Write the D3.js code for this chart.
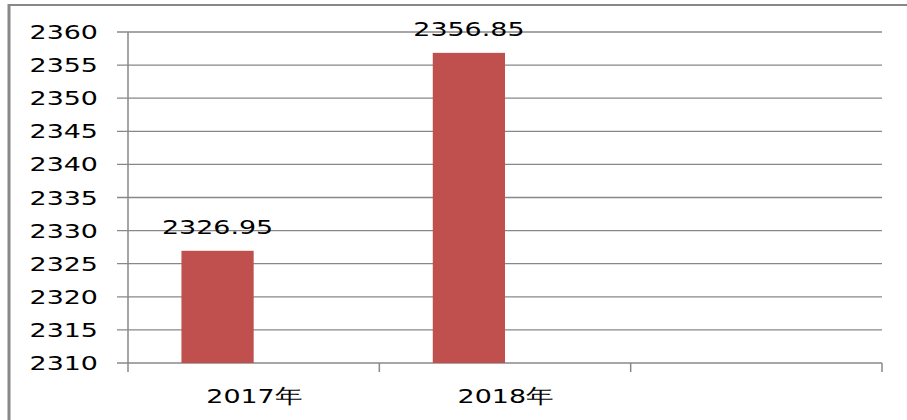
<!DOCTYPE html>
<html>
<head>
<meta charset="utf-8">
<script src="https://cdn.jsdelivr.net/npm/d3@7"></script>
<style>
  body { margin: 0; background: #fff; }
  text { font-family: "DejaVu Sans", sans-serif; fill: #000; }
</style>
</head>
<body>
<svg id="chart" width="907" height="420"></svg>
<script>
// data
var categories = ['2017年', '2018年', ''];
var seriesNames = ['s1', 's2'];
var values = [2326.95, 2356.85, null];
var yTicks = [2310, 2315, 2320, 2325, 2330, 2335, 2340, 2345, 2350, 2355, 2360];

var width = 907;
var height = 420;
var plotLeft = 128, plotRight = 882, plotTop = 32, plotBottom = 363;
var stretch = 1.38;   // text in the picture is wide
var fontSize = 19.5;
var gridColor = '#888888';
var barColor = '#C0504D';

var svg = d3.select('#chart');

// frame (only top and left visible)
svg.append('line')
  .attr('x1', 8).attr('x2', width)
  .attr('y1', 5).attr('y2', 5)
  .attr('stroke', gridColor).attr('stroke-width', 2);
svg.append('line')
  .attr('x1', 9).attr('x2', 9)
  .attr('y1', 4).attr('y2', height)
  .attr('stroke', gridColor).attr('stroke-width', 3);

var y = d3.scaleLinear()
  .domain([2310, 2360])
  .range([plotBottom, plotTop]);

var x = d3.scaleBand()
  .domain(categories.map(function(d, i) { return i; }))
  .range([plotLeft, plotRight])
  .paddingInner(0)
  .paddingOuter(0);

// two slots per category, second series empty -> bars sit left of centre
var xInner = d3.scaleBand()
  .domain(seriesNames)
  .range([0, x.bandwidth()])
  .paddingOuter(0.74)
  .paddingInner(0);

// gridlines + y ticks
svg.append('g').selectAll('line')
  .data(yTicks)
  .enter().append('line')
  .attr('x1', plotLeft - 11).attr('x2', plotRight)
  .attr('y1', function(d) { return y(d); })
  .attr('y2', function(d) { return y(d); })
  .attr('stroke', gridColor)
  .attr('stroke-width', 1.3);

svg.append('g').selectAll('text')
  .data(yTicks)
  .enter().append('text')
  .attr('text-anchor', 'end')
  .attr('dy', '0.36em')
  .attr('font-size', fontSize)
  .attr('transform', function(d) { return 'translate(98,' + y(d) + ') scale(' + stretch + ',1)'; })
  .text(function(d) { return d; });

// y axis line
svg.append('line')
  .attr('x1', plotLeft).attr('x2', plotLeft)
  .attr('y1', plotTop).attr('y2', plotBottom)
  .attr('stroke', gridColor).attr('stroke-width', 1.5);

// category ticks
var catEdges = categories.map(function(d, i) { return x(i); }).concat([plotRight]);
svg.append('g').selectAll('line')
  .data(catEdges)
  .enter().append('line')
  .attr('x1', function(d) { return d; })
  .attr('x2', function(d) { return d; })
  .attr('y1', plotBottom).attr('y2', plotBottom + 9)
  .attr('stroke', gridColor).attr('stroke-width', 1.5);

// category labels
svg.append('g').selectAll('text')
  .data(categories)
  .enter().append('text')
  .attr('text-anchor', 'middle')
  .attr('font-size', fontSize)
  .attr('transform', function(d, i) { return 'translate(' + (x(i) + x.bandwidth() / 2) + ',403) scale(' + stretch + ',1)'; })
  .text(function(d) { return d; });

// bars
var barData = values.map(function(v, i) { return { i: i, v: v }; })
  .filter(function(d) { return d.v !== null; });

svg.append('g').selectAll('rect')
  .data(barData)
  .enter().append('rect')
  .attr('x', function(d) { return x(d.i) + xInner('s1'); })
  .attr('width', xInner.bandwidth())
  .attr('y', function(d) { return y(d.v); })
  .attr('height', function(d) { return plotBottom - y(d.v); })
  .attr('fill', barColor);

// data labels
svg.append('g').selectAll('text')
  .data(barData)
  .enter().append('text')
  .attr('text-anchor', 'middle')
  .attr('font-size', fontSize)
  .attr('transform', function(d) {
    return 'translate(' + (x(d.i) + xInner('s1') + xInner.bandwidth() / 2) + ',' + (y(d.v) - 17) + ') scale(' + stretch + ',1)';
  })
  .text(function(d) { return d3.format('.2f')(d.v); });
</script>
</body>
</html>
